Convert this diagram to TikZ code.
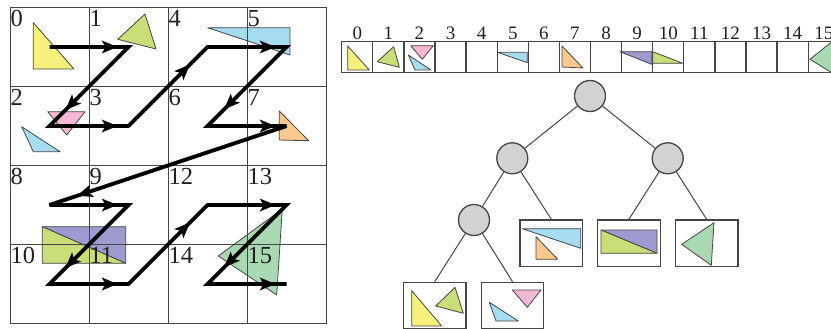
\documentclass[tikz,border=0pt]{standalone}
\usepackage{fontspec}
\setmainfont{Liberation Serif}
\usetikzlibrary{decorations.markings}
\definecolor{cyel}{HTML}{F8F07C}
\definecolor{clime}{HTML}{C9DD78}
\definecolor{cpink}{HTML}{F5B8D4}
\definecolor{cblue}{HTML}{A6DCEF}
\definecolor{corange}{HTML}{FCC88F}
\definecolor{cpurple}{HTML}{9D9BD0}
\definecolor{cgreen}{HTML}{A9D9B3}
\definecolor{cnode}{HTML}{D1D2D4}
\definecolor{cline}{HTML}{454545}
\definecolor{ctext}{HTML}{231F20}
\begin{document}
\begin{tikzpicture}[x=1pt,y=-1pt,
  tri/.style={draw=cline,line width=0.8pt,line join=round},
  gridline/.style={draw=cline,line width=0.9pt},
  glabel/.style={anchor=base west,inner sep=0pt,text=ctext,font=\fontsize{24.5}{24.5}\selectfont},
  alabel/.style={anchor=base,inner sep=0pt,text=ctext,font=\fontsize{19}{19}\selectfont},
  acell/.style={draw=cline,line width=1.3pt,minimum width=31.1pt,minimum height=31pt,inner sep=0pt},
  tnode/.style={circle,draw=cline,line width=1.3pt,fill=cnode,minimum size=31pt,inner sep=0pt},
  leafbox/.style={draw=cline,line width=1.2pt,minimum width=62.7pt,minimum height=46.7pt,inner sep=0pt},
  tedge/.style={draw=cline,line width=1pt},
  zline/.style={draw=black,line width=3.8pt,miter limit=4},
  zarrow/.style={postaction={decorate,decoration={markings,mark=at position #1 with {\fill[black] (1pt,0pt) -- (-15pt,6.5pt) -- (-11pt,0pt) -- (-15pt,-6.5pt) -- cycle;}}}}
]
\useasboundingbox (0,0) rectangle (831,329);

% ---------- grid triangles ----------
\filldraw[tri,fill=cyel] (33.3,22.7) -- (33.3,69) -- (74,69) -- cycle;
\filldraw[tri,fill=clime] (145,14) -- (156,49) -- (117.7,39.3) -- cycle;
\filldraw[tri,fill=cblue] (21.7,126.7) -- (60,151.7) -- (33.3,151.7) -- cycle;
\filldraw[tri,fill=cpink] (47.7,111.7) -- (85,111.7) -- (66.7,135) -- cycle;
\filldraw[tri,fill=cblue] (207.7,27.7) -- (290,27.7) -- (290,55) -- cycle;
\filldraw[tri,fill=corange] (279.3,111) -- (279.3,140) -- (308.7,140.7) -- cycle;
\filldraw[tri,fill=cpurple] (42.3,226.7) -- (125.7,226.7) -- (125.7,263.3) -- cycle;
\filldraw[tri,fill=clime] (42.3,226.7) -- (42.3,263.3) -- (125.7,263.3) -- cycle;
\filldraw[tri,fill=cgreen] (282.3,209) -- (276.7,295) -- (218.3,256) -- cycle;

% ---------- grid ----------
\foreach \i in {0,...,4} {
  \draw[gridline] ({10+79*\i},7.5) -- ({10+79*\i},323.5);
  \draw[gridline] (10,{7.5+79*\i}) -- (326,{7.5+79*\i});
}

% ---------- grid labels and cell centres (Z order) ----------
\foreach \n/\c/\r in {0/0/0,1/1/0,2/0/1,3/1/1,4/2/0,5/3/0,6/2/1,7/3/1,8/0/2,9/1/2,10/0/3,11/1/3,12/2/2,13/3/2,14/2/3,15/3/3} {
  \node[glabel] (gl\n) at ({10.3+79*\c},{26.7+79*\r}) {\n};
  \coordinate (z\n) at ({49.5+79*\c},{47+79*\r});
}

% ---------- Z-order curve ----------
\draw[zline] (z0) -- (z1) -- (z2) -- (z3) -- (z4) -- (z5) -- (z6) -- (z7) -- (z8) -- (z9) -- (z10) -- (z11) -- (z12) -- (z13) -- (z14) -- (z15);
\foreach \a/\b/\p in {0/1/0.85,1/2/0.79,2/3/0.85,3/4/0.77,4/5/0.85,5/6/0.78,6/7/0.85,7/8/0.88,8/9/0.85,9/10/0.79,10/11/0.85,11/12/0.77,12/13/0.85,13/14/0.78,14/15/0.85} {
  \path[zarrow=\p] (z\a) -- (z\b);
}

% ---------- array ----------
\foreach \k in {0,...,15} {
  \node[acell] (a\k) at ({357.25+31.1*\k},57.2) {};
  \node[alabel] (al\k) at ({357.25+31.1*\k},39.3) {\k};
}
\filldraw[tri,fill=cyel] (347.7,46) -- (347.7,70) -- (369.3,70) -- cycle;
\filldraw[tri,fill=clime] (393.7,46.7) -- (399.3,67.3) -- (377.3,61.7) -- cycle;
\filldraw[tri,fill=cpink] (410.7,45.7) -- (433.3,45.7) -- (422.3,59.3) -- cycle;
\filldraw[tri,fill=cblue] (408.3,55) -- (431,70) -- (415,70) -- cycle;
\filldraw[tri,fill=cblue] (497.7,52.3) -- (527.3,52.3) -- (527.3,62.7) -- cycle;
\filldraw[tri,fill=corange] (562,46) -- (562,67) -- (583,68) -- cycle;
\filldraw[tri,fill=cpurple] (620,51.7) -- (651.7,51.7) -- (651.7,64.3) -- cycle;
\filldraw[tri,fill=clime] (652.7,51.7) -- (652.7,63.3) -- (682.7,63.3) -- cycle;
\filldraw[tri,fill=cgreen] (834,40) -- (833,73.5) -- (810,59.3) -- cycle;

% ---------- tree ----------
\node[tnode] (root) at (590,96) {};
\node[tnode] (nl) at (512.3,158.3) {};
\node[tnode] (nr) at (667.7,158.3) {};
\node[tnode] (nll) at (474,220) {};
\node[leafbox] (bA) at (434.7,305.6) {};
\node[leafbox] (bB) at (512.5,305.6) {};
\node[leafbox] (bC) at (551.3,243.3) {};
\node[leafbox] (bD) at (628.9,243.3) {};
\node[leafbox] (bE) at (706.7,243.3) {};
\draw[tedge] (root) -- (nl);
\draw[tedge] (root) -- (nr);
\draw[tedge] (nl) -- (nll);
\draw[tedge] (nl) -- (bC.north);
\draw[tedge] (nr) -- (bD.north);
\draw[tedge] (nr) -- (bE.north);
\draw[tedge] (nll) -- (bA.north);
\draw[tedge] (nll) -- (bB.north);

% leaf contents
\filldraw[tri,fill=cyel] (411.7,290.7) -- (411.7,326) -- (441.7,326) -- cycle;
\filldraw[tri,fill=clime] (455,287.3) -- (463.3,313.3) -- (435.7,306) -- cycle;
\filldraw[tri,fill=cpink] (512.3,290) -- (541,290) -- (527.3,307.3) -- cycle;
\filldraw[tri,fill=cblue] (489.3,302.3) -- (518.3,321) -- (496,321) -- cycle;
\filldraw[tri,fill=cblue] (522.3,228.7) -- (580.7,228.7) -- (580.7,248.3) -- cycle;
\filldraw[tri,fill=corange] (536,236.7) -- (536,259.3) -- (557.7,259.3) -- cycle;
\filldraw[tri,fill=cpurple] (601,230) -- (657,230) -- (657,253.3) -- cycle;
\filldraw[tri,fill=clime] (601,230) -- (601,253.3) -- (657,253.3) -- cycle;
\filldraw[tri,fill=cgreen] (714,222.7) -- (711.3,265.3) -- (681.7,244.3) -- cycle;
\end{tikzpicture}
\end{document}
